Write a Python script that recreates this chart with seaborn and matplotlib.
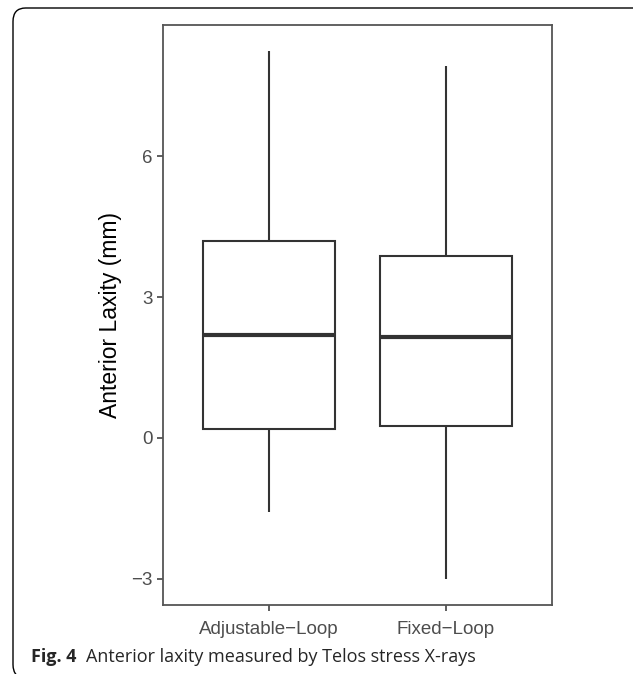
import pandas as pd
import matplotlib.pyplot as plt
import seaborn as sns
from matplotlib.patches import FancyBboxPatch

# five-number summaries (min, Q1, median, Q3, max)
groups = ['Adjustable\u2212Loop', 'Fixed\u2212Loop']
adjustable = [-1.57, 0.18, 2.20, 4.20, 8.24]
fixed = [-3.00, 0.26, 2.15, 3.88, 7.93]
yticks = [-3, 0, 3, 6]

df = pd.DataFrame({
    'group': [groups[0]] * len(adjustable) + [groups[1]] * len(fixed),
    'value': adjustable + fixed,
})

sns.set_style('white')
plt.rcParams['font.family'] = ['Liberation Sans', 'DejaVu Sans']

fig = plt.figure(figsize=(6.33, 6.74), dpi=100)
ax = fig.add_axes([0.258, 0.1024, 0.6136, 0.8605])

sns.boxplot(data=df, x='group', y='value', ax=ax, color='white',
            linecolor='#333333', linewidth=1.5, width=0.75, showcaps=False,
            fliersize=0, medianprops={'linewidth': 3.0, 'color': '#333333'})

ax.set_xlim(-0.6, 1.6)
ax.set_ylim(-3.56, 8.80)
ax.set_yticks(yticks)
ax.set_yticklabels(['\u22123', '0', '3', '6'])
ax.set_xlabel('')
ax.set_ylabel('Anterior Laxity (mm)', fontsize=16.5, color='black', labelpad=7)
ax.tick_params(axis='both', length=4.5, width=1.1, color='#333333',
               labelsize=13.5, labelcolor='#4D4D4D', pad=3, left=True, bottom=True)
ax.tick_params(axis='x', pad=7)
for s in ax.spines.values():
    s.set_color('#555555')
    s.set_linewidth(1.3)

# journal figure frame (rounded, open on the right and bottom)
frame = FancyBboxPatch((13 / 633, -4 / 674), 1.0, 1.0 - 4 / 674,
                       boxstyle='round,pad=0,rounding_size=0.02',
                       transform=fig.transFigure, fill=False,
                       edgecolor='black', linewidth=1.0, clip_on=False)
fig.patches.append(frame)

fig.text(31 / 633, 1 - 657 / 674, 'Fig. 4', fontsize=13, fontweight='bold',
         family=['Open Sans', 'DejaVu Sans'], va='center', ha='left')
fig.text(86 / 633, 1 - 657 / 674, 'Anterior laxity measured by Telos stress X-rays',
         fontsize=13, family=['Open Sans', 'DejaVu Sans'], va='center', ha='left')

plt.savefig('out.png', dpi=100)
